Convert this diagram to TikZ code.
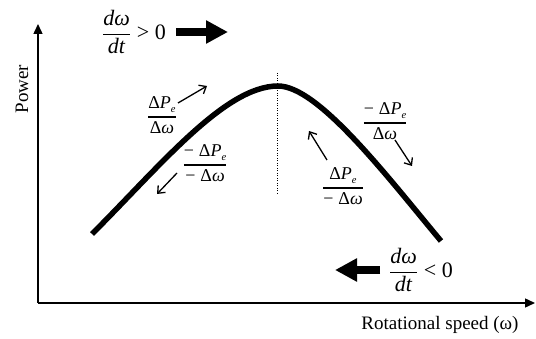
\documentclass[tikz,border=0pt]{standalone}
\usepackage{fontspec}
\setmainfont{Liberation Serif}
\usetikzlibrary{arrows.meta}
\newcommand{\dPe}{Δ\textit{P}\raisebox{-4pt}{\fontsize{10.5}{11}\selectfont\itshape e}}
\newcommand{\dOm}{Δ\textit{ω}}
\newcommand{\myfr}[2]{$\displaystyle{\mbox{#1}\above1.2pt\mbox{#2}}$}
\tikzset{
  axisline/.style={line width=1.4pt,-{Triangle[length=10pt,width=9pt]}},
  curveline/.style={line width=5.5pt},
  smallarrow/.style={line width=1.3pt,-{Straight Barb[length=6pt,width=10pt]}},
  bigarrow/.style={line width=7.5pt,-{Triangle[length=22pt,width=22pt]}},
  dotline/.style={line width=1pt,dash pattern=on 1pt off 1.5pt},
  lab/.style={font=\fontsize{19}{22}\selectfont,inner sep=0},
  bigfrac/.style={font=\fontsize{22}{26}\selectfont,inner sep=0},
  delfrac/.style={font=\fontsize{18}{21}\selectfont,inner sep=0},
}
\begin{document}
\begin{tikzpicture}[x=1pt,y=-1pt]
\useasboundingbox (0,0) rectangle (536,339);
% axes
\coordinate (O) at (38,303);
\coordinate (Ytop) at (38,24);
\coordinate (Xend) at (535,303);
\draw[axisline] (O) -- (Ytop);
\draw[axisline] (O) -- (Xend);
\node[lab,rotate=90,anchor=base] (ylab) at (28,89) {Power};
\node[lab,anchor=base] (xlab) at (440,330) {Rotational speed (ω)};
% curve
\coordinate (CL) at (92,234);
\coordinate (CP) at (278,86);
\coordinate (CR) at (441,241);
\draw[curveline] (CL) .. controls (160,166) and (225,86) .. (CP)
                      .. controls (318,86) and (386,175) .. (CR);
% dotted line
\coordinate (D1) at (277.5,73);
\coordinate (D2) at (277.5,195);
\draw[dotline] (D1) -- (D2);
% big labels
\node[bigfrac] (fpos) at (134,32) {$\displaystyle{\mbox{\itshape dω}\above1.2pt\mbox{\itshape dt}}\mathrel{\mbox{>}}\mbox{0}$};
\node[bigfrac] (fneg) at (421,270) {$\displaystyle{\mbox{\itshape dω}\above1.2pt\mbox{\itshape dt}}\mathrel{\mbox{<}}\mbox{0}$};
\coordinate (BA1) at (176,32);
\coordinate (BA2) at (228,32);
\draw[bigarrow] (BA1) -- (BA2);
\coordinate (BB1) at (380,270);
\coordinate (BB2) at (335,270);
\draw[bigarrow] (BB1) -- (BB2);
% delta fractions
\node[delfrac] (f1) at (162,115) {\myfr{\dPe}{\dOm}};
\node[delfrac] (f2) at (205,163) {\myfr{−\;\dPe}{−\;\dOm}};
\node[delfrac] (f3) at (385,121) {\myfr{−\;\dPe}{\dOm}};
\node[delfrac] (f4) at (343,186) {\myfr{\dPe}{−\;\dOm}};
% small arrows
\coordinate (a1s) at (178,103); \coordinate (a1e) at (207,86);
\coordinate (a2s) at (177,173); \coordinate (a2e) at (157,194);
\coordinate (a3s) at (395,140); \coordinate (a3e) at (412,166);
\coordinate (a4s) at (327,160); \coordinate (a4e) at (309,131);
\draw[smallarrow] (a1s) -- (a1e);
\draw[smallarrow] (a2s) -- (a2e);
\draw[smallarrow] (a3s) -- (a3e);
\draw[smallarrow] (a4s) -- (a4e);
\end{tikzpicture}
\end{document}
